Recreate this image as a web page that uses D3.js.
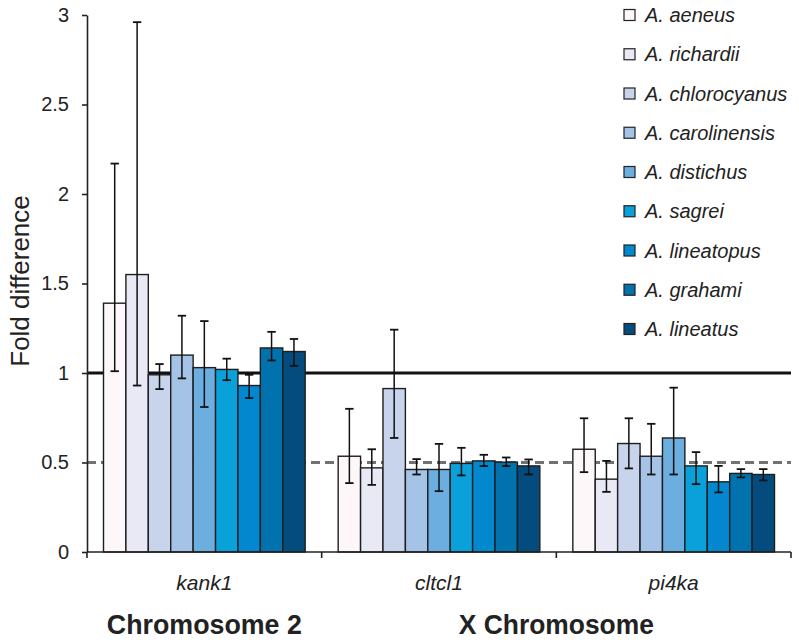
<!DOCTYPE html>
<html>
<head>
<meta charset="utf-8">
<script src="https://cdn.jsdelivr.net/npm/d3@7"></script>
<style>
  body { margin: 0; background: #fff; }
  svg { display: block; font-family: "Liberation Sans", Arial, sans-serif; }
</style>
</head>
<body>
<svg id="chart" width="799" height="640"></svg>
<script>
// ---- data ----
const species = ["A. aeneus", "A. richardii", "A. chlorocyanus", "A. carolinensis",
  "A. distichus", "A. sagrei", "A. lineatopus", "A. grahami", "A. lineatus"];
const colors = ["#fdf7f9", "#e9e9f5", "#c8d4ec", "#a5c3e6", "#6caee0",
  "#0aa0da", "#0388d0", "#0272ae", "#034c7d"];
const genes = ["kank1", "cltcl1", "pi4ka"];

const kank1Mean = [1.39, 1.55, 0.99, 1.10, 1.03, 1.02, 0.93, 1.14, 1.12];
const kank1Hi   = [2.17, 2.96, 1.05, 1.32, 1.29, 1.08, 0.99, 1.23, 1.19];
const kank1Lo   = [1.01, 0.93, 0.91, 0.97, 0.81, 0.96, 0.86, 1.07, 1.04];

const cltcl1Mean = [0.535, 0.47, 0.913, 0.461, 0.461, 0.495, 0.509, 0.502, 0.481];
const cltcl1Hi   = [0.80, 0.574, 1.242, 0.519, 0.604, 0.582, 0.543, 0.528, 0.517];
const cltcl1Lo   = [0.385, 0.375, 0.637, 0.433, 0.34, 0.428, 0.48, 0.48, 0.433];

const pi4kaMean = [0.574, 0.407, 0.606, 0.535, 0.637, 0.481, 0.392, 0.439, 0.433];
const pi4kaHi   = [0.747, 0.509, 0.747, 0.716, 0.918, 0.558, 0.481, 0.463, 0.463];
const pi4kaLo   = [0.446, 0.336, 0.467, 0.433, 0.433, 0.379, 0.333, 0.417, 0.40];

const yTicks = [0, 0.5, 1, 1.5, 2, 2.5, 3];
const yTickLabels = ["0", "0.5", "1", "1.5", "2", "2.5", "3"];
const refSolid = 1;
const refDashed = 0.5;
const chromosomes = [
  { label: "Chromosome 2", genes: ["kank1"] },
  { label: "X Chromosome", genes: ["cltcl1", "pi4ka"] }
];

const geneData = {
  kank1: { mean: kank1Mean, hi: kank1Hi, lo: kank1Lo },
  cltcl1: { mean: cltcl1Mean, hi: cltcl1Hi, lo: cltcl1Lo },
  pi4ka: { mean: pi4kaMean, hi: pi4kaHi, lo: pi4kaLo }
};

// ---- layout ----
const svg = d3.select("#chart");
const x0 = 87, x1 = 791, yBottom = 552, yTop = 15;

const y = d3.scaleLinear().domain([0, 3]).range([yBottom, yTop]);
const xGene = d3.scaleBand().domain(genes).range([x0, x1]).padding(0);
const innerPad = 16.5;
const xSp = d3.scaleBand().domain(species)
  .range([innerPad, xGene.bandwidth() - innerPad]).padding(0);

// reference lines (behind bars)
svg.append("line")
  .attr("x1", x0).attr("x2", x1)
  .attr("y1", y(refSolid)).attr("y2", y(refSolid))
  .attr("stroke", "#111").attr("stroke-width", 2.8);
svg.append("line")
  .attr("x1", x0).attr("x2", x1)
  .attr("y1", y(refDashed)).attr("y2", y(refDashed))
  .attr("stroke", "#727272").attr("stroke-width", 3)
  .attr("stroke-dasharray", "9,5");

// bars
const groups = svg.selectAll("g.gene").data(genes).enter().append("g")
  .attr("class", "gene")
  .attr("transform", g => `translate(${xGene(g)},0)`);

groups.each(function(g) {
  const d = geneData[g];
  const rows = species.map((s, i) => ({ s, i, m: d.mean[i], hi: d.hi[i], lo: d.lo[i] }));
  const grp = d3.select(this);
  grp.selectAll("rect").data(rows).enter().append("rect")
    .attr("x", r => xSp(r.s))
    .attr("y", r => y(r.m))
    .attr("width", xSp.bandwidth())
    .attr("height", r => y(0) - y(r.m))
    .attr("fill", r => colors[r.i])
    .attr("stroke", "#1e1e1e")
    .attr("stroke-width", 1.4);
  const eb = grp.selectAll("g.err").data(rows).enter().append("g").attr("class", "err");
  const cx = r => xSp(r.s) + xSp.bandwidth() / 2;
  eb.append("line")
    .attr("x1", cx).attr("x2", cx)
    .attr("y1", r => y(r.lo)).attr("y2", r => y(r.hi))
    .attr("stroke", "#111").attr("stroke-width", 1.5);
  [ "hi", "lo" ].forEach(k => {
    eb.append("line")
      .attr("x1", r => cx(r) - 4.2).attr("x2", r => cx(r) + 4.2)
      .attr("y1", r => y(r[k])).attr("y2", r => y(r[k]))
      .attr("stroke", "#111").attr("stroke-width", 1.8);
  });
});

// y axis
const yAxis = d3.axisLeft(y).tickValues(yTicks)
  .tickFormat((d, i) => yTickLabels[i])
  .tickSize(5).tickSizeOuter(0).tickPadding(13);
const ya = svg.append("g").attr("transform", `translate(${x0},0)`).call(yAxis);
ya.select(".domain").attr("stroke", "#222").attr("stroke-width", 1.6);
ya.selectAll(".tick line").attr("stroke", "#222").attr("stroke-width", 1.6);
ya.selectAll(".tick text").attr("font-size", 20).attr("fill", "#222")
  .attr("font-family", "Liberation Sans, Arial, sans-serif");

// x axis (baseline + boundary ticks)
svg.append("line")
  .attr("x1", x0).attr("x2", x1).attr("y1", yBottom).attr("y2", yBottom)
  .attr("stroke", "#222").attr("stroke-width", 1.6);
const bounds = genes.map(g => xGene(g)).concat([xGene(genes[genes.length - 1]) + xGene.bandwidth()]);
svg.selectAll("line.bt").data(bounds).enter().append("line")
  .attr("class", "bt")
  .attr("x1", d => d).attr("x2", d => d)
  .attr("y1", yBottom).attr("y2", yBottom + 6)
  .attr("stroke", "#222").attr("stroke-width", 1.6);

// gene labels
svg.selectAll("text.gl").data(genes).enter().append("text")
  .attr("class", "gl")
  .attr("x", g => xGene(g) + xGene.bandwidth() / 2)
  .attr("y", 590)
  .attr("text-anchor", "middle")
  .attr("font-size", 21).attr("font-style", "italic").attr("fill", "#222")
  .text(g => g);

// chromosome labels
svg.selectAll("text.cl").data(chromosomes).enter().append("text")
  .attr("class", "cl")
  .attr("x", c => {
    const a = xGene(c.genes[0]);
    const b = xGene(c.genes[c.genes.length - 1]) + xGene.bandwidth();
    return (a + b) / 2;
  })
  .attr("y", 634)
  .attr("text-anchor", "middle")
  .attr("font-size", 27).attr("font-weight", "bold").attr("fill", "#222")
  .attr("textLength", 195).attr("lengthAdjust", "spacingAndGlyphs")
  .text(c => c.label);

// y title
svg.append("text")
  .attr("transform", "translate(29,281) rotate(-90)")
  .attr("text-anchor", "middle")
  .attr("font-size", 26).attr("fill", "#222")
  .text("Fold difference");

// legend
const leg = svg.append("g");
const legY0 = 15, legStep = 39.25;
const li = leg.selectAll("g").data(species).enter().append("g")
  .attr("transform", (s, i) => `translate(624,${legY0 + i * legStep})`);
li.append("rect")
  .attr("x", 0).attr("y", -5.5).attr("width", 11).attr("height", 11)
  .attr("fill", (s, i) => colors[i]).attr("stroke", "#222").attr("stroke-width", 1.2);
li.append("text")
  .attr("x", 21).attr("y", 7)
  .attr("font-size", 20).attr("font-style", "italic").attr("fill", "#222")
  .text(s => s);
</script>
</body>
</html>
